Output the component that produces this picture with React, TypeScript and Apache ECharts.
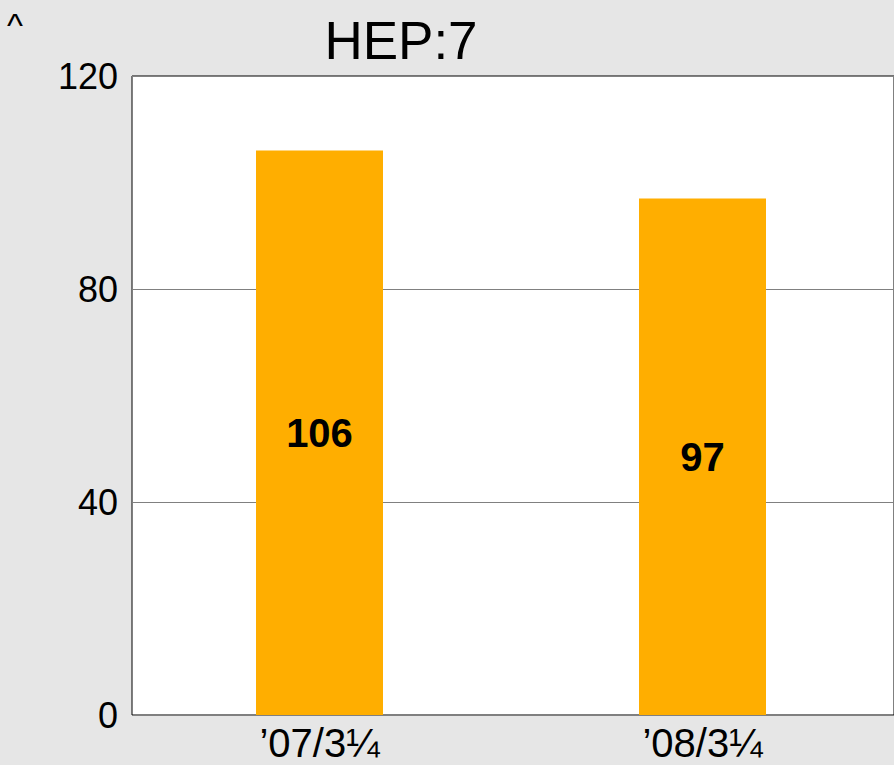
import React, { useEffect, useRef } from "react";
import * as echarts from "echarts";

const categories = ["’07/3¼", "’08/3¼"];
const values = [106, 97];
const yMin = 0;
const yMax = 120;
const yInterval = 40;
const titleText = "HEP:7";
const cornerMark = "^";

export default function App() {
  const ref = useRef<HTMLDivElement>(null);
  useEffect(() => {
    if (!ref.current) return;
    const chart = echarts.init(ref.current, null, { renderer: "svg" });
    const font = "'Liberation Sans', Arial, sans-serif";
    chart.setOption({
      animation: false,
      backgroundColor: "#e6e6e6",
      textStyle: { fontFamily: font },
      title: {
        text: titleText,
        left: 396,
        top: 9,
        textAlign: "center",
        textStyle: { fontSize: 53, fontWeight: "normal", color: "#000", fontFamily: font },
      },
      graphic: [
        {
          type: "text",
          left: 7,
          top: 8,
          style: { text: cornerMark, fontSize: 34, fill: "#000", fontFamily: font },
        },
      ],
      grid: [
        {
          left: 132,
          top: 76,
          right: -3,
          bottom: 50,
          show: true,
          backgroundColor: "#ffffff",
          borderColor: "#000",
          borderWidth: 1,
        },
        {
          left: 128,
          width: 776,
          top: 76,
          bottom: 50,
        },
      ],
      xAxis: [
        {
          gridIndex: 0,
          type: "category",
          data: categories,
          axisLine: { show: false },
          axisTick: { show: false },
          axisLabel: { show: false },
        },
        {
          gridIndex: 1,
          type: "category",
          data: categories,
          axisLine: { show: false },
          axisTick: { show: false },
          axisLabel: { fontSize: 40, color: "#000", margin: 8, fontFamily: font },
        },
      ],
      yAxis: [
        {
          gridIndex: 0,
          type: "value",
          min: yMin,
          max: yMax,
          interval: yInterval,
          axisLine: { show: false },
          axisTick: { show: false },
          axisLabel: { fontSize: 36, color: "#000", margin: 14, fontFamily: font },
          splitLine: { show: true, lineStyle: { color: "#808080", width: 1 } },
        },
        {
          gridIndex: 1,
          type: "value",
          min: yMin,
          max: yMax,
          interval: yInterval,
          show: false,
          splitLine: { show: false },
        },
      ],
      series: [
        {
          type: "bar",
          xAxisIndex: 1,
          yAxisIndex: 1,
          data: values,
          barWidth: 127,
          itemStyle: { color: "#ffae00" },
          label: {
            show: true,
            position: "inside",
            fontSize: 40,
            fontWeight: "bold",
            color: "#000",
            fontFamily: font,
          },
        },
      ],
    });
    return () => chart.dispose();
  }, []);
  return <div ref={ref} style={{ width: 894, height: 765, position: "absolute", left: 0, top: 0 }} />;
}
